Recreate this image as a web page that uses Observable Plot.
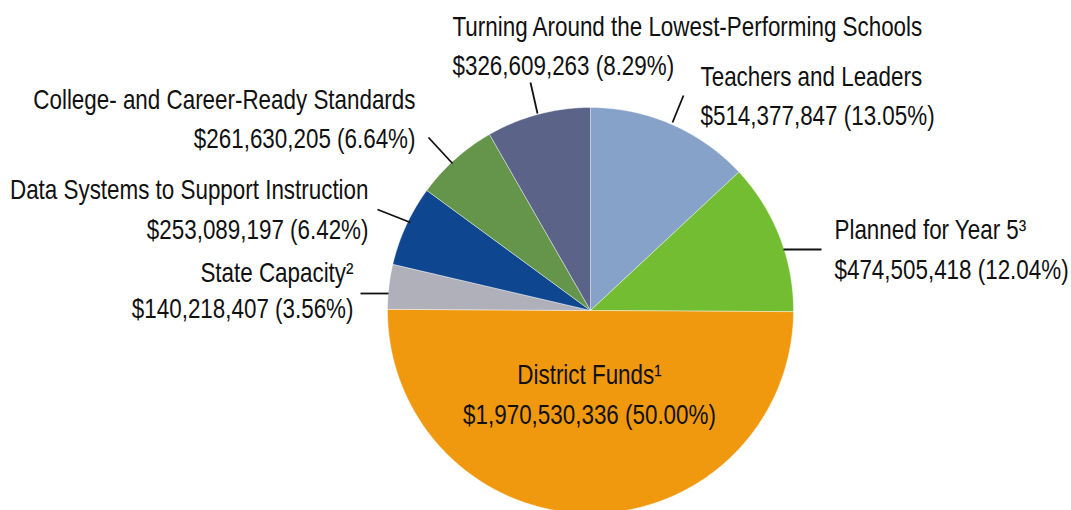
<!DOCTYPE html>
<html><head><meta charset="utf-8">
<script src="https://cdn.jsdelivr.net/npm/d3@7"></script>
<script src="https://cdn.jsdelivr.net/npm/@observablehq/plot@0.6"></script>
<style>html,body{margin:0;padding:0;background:#fff;overflow:hidden}</style>
</head><body><div id="chart"></div>
<script>
// ---- data (clockwise from 12 o'clock) ----
const categories = ["Teachers and Leaders", "Planned for Year 5", "District Funds", "State Capacity", "Data Systems to Support Instruction", "College- and Career-Ready Standards", "Turning Around the Lowest-Performing Schools"];
const amounts = [514377847, 474505418, 1970530336, 140218407, 253089197, 261630205, 326609263];
const percents = ["13.05%", "12.04%", "50.00%", "3.56%", "6.42%", "6.64%", "8.29%"];
const notes = ["", "³", "¹", "²", "", "", ""];
const colors = ["#86a2c8", "#72bd32", "#f0990f", "#b0b0ba", "#0e468f", "#64954b", "#5b6389"];

// ---- layout ----
const W = 1071, H = 510, cx = 590, cy = 310, R = 203;
const FONT = "'Liberation Sans', Arial, sans-serif";
const NARROW = 0.83; // horizontal condensing of the labels
const layout = [
  {anchor: "start",  x: 700, y1: 85,  y2: 124, leader: [672, 122, 683, 95]},
  {anchor: "start",  x: 834, y1: 238, y2: 278, leader: [783, 249, 821, 249]},
  {anchor: "middle", x: 589, y1: 383, y2: 423, leader: null},
  {anchor: "end",    x: 353, y1: 281, y2: 317, leader: [388, 293, 360, 293]},
  {anchor: "end",    x: 368, y1: 198, y2: 238, leader: [410, 222, 377, 209]},
  {anchor: "end",    x: 415, y1: 108, y2: 147, leader: [452, 163, 428, 137]},
  {anchor: "start",  x: 452, y1: 35,  y2: 74,  leader: [537, 113, 530, 82]}
];

// ---- slice polygons from d3.pie ----
const arcs = d3.pie().sort(null).value(d => d)(amounts);
const slicePts = [];
arcs.forEach((a, i) => {
  const cat = categories[i];
  slicePts.push({cat, x: cx, y: cy});
  const n = Math.max(2, Math.ceil((a.endAngle - a.startAngle) / (Math.PI / 360)));
  for (let k = 0; k <= n; k++) {
    const t = a.startAngle + (a.endAngle - a.startAngle) * k / n;
    slicePts.push({cat, x: cx + R * Math.sin(t), y: cy - R * Math.cos(t)});
  }
  slicePts.push({cat, x: cx, y: cy});
});

const fmt = d3.format(",");
const textRows = [];
categories.forEach((c, i) => {
  const L = layout[i];
  textRows.push({anchor: L.anchor, x: L.x, y: L.y1, text: c + notes[i]});
  textRows.push({anchor: L.anchor, x: L.x, y: L.y2, text: "$" + fmt(amounts[i]) + " (" + percents[i] + ")"});
});
const leaders = layout.filter(L => L.leader).map(L => ({x1: L.leader[0], y1: L.leader[1], x2: L.leader[2], y2: L.leader[3]}));

const textMark = anchor => Plot.text(textRows.filter(d => d.anchor === anchor), {
  x: "x", y: "y", text: "text", textAnchor: anchor, lineAnchor: "bottom",
  fontSize: 27, fontFamily: FONT, fill: "#111"
});

const chart = Plot.plot({
  width: W, height: H,
  margin: 0,
  x: {domain: [0, W], range: [0, W], axis: null},
  y: {domain: [0, H], range: [0, H], axis: null},
  color: {domain: categories, range: colors},
  style: {fontFamily: FONT, background: "#fff"},
  marks: [
    Plot.line(slicePts, {x: "x", y: "y", z: "cat", fill: d => d.cat, stroke: "#ffffff", strokeWidth: 0.6, strokeOpacity: 0.7, curve: "linear"}),
    Plot.link(leaders, {x1: "x1", y1: "y1", x2: "x2", y2: "y2", stroke: "#111", strokeWidth: 1.8}),
    textMark("start"),
    textMark("end"),
    textMark("middle")
  ]
});

// condense the label glyphs horizontally around their anchors
chart.querySelectorAll("text").forEach(t => {
  const tr = t.getAttribute("transform");
  if (tr && tr.includes("translate")) {
    t.setAttribute("transform", tr + ` scale(${NARROW},1)`);
  } else {
    const x = +t.getAttribute("x") || 0, y = +t.getAttribute("y") || 0;
    t.setAttribute("transform", `translate(${x},${y}) scale(${NARROW},1) translate(${-x},${-y})`);
  }
});
document.getElementById("chart").appendChild(chart);
</script>
</body></html>
